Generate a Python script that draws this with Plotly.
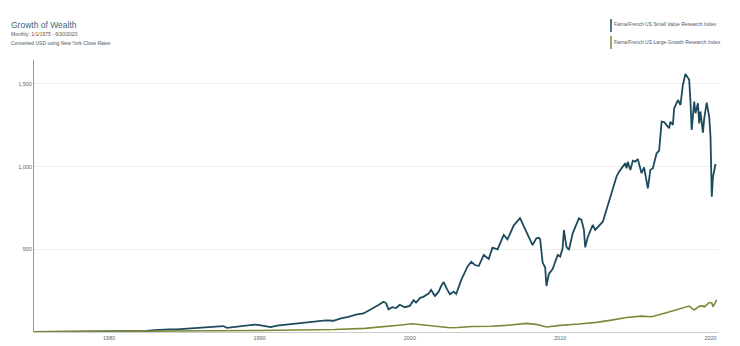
import plotly.graph_objects as go

# Fama/French US Small Value Research Index (growth of $1)
sv_dates = [
    "1975-01-01", "1976-01-01", "1977-01-01", "1978-01-01", "1979-01-01", "1980-01-01",
    "1981-01-01", "1982-01-01", "1982-07-01", "1983-01-01", "1983-07-01", "1984-01-01",
    "1984-07-01", "1985-01-01", "1986-01-01", "1986-07-01", "1987-01-01", "1987-08-01",
    "1987-11-01", "1988-06-01", "1989-01-01", "1989-09-01", "1990-01-01", "1990-10-01",
    "1991-03-01", "1991-12-01", "1992-06-01", "1993-01-01", "1993-10-01", "1994-06-01",
    "1994-12-01", "1995-06-01", "1995-12-01", "1996-06-01", "1996-12-01", "1997-06-01",
    "1997-12-01", "1998-04-01", "1998-06-01", "1998-08-01", "1998-11-01", "1999-02-01",
    "1999-05-01", "1999-09-01", "2000-01-01", "2000-04-01", "2000-06-01", "2000-09-01",
    "2000-12-01", "2001-04-01", "2001-06-01", "2001-09-01", "2001-12-01", "2002-02-01",
    "2002-04-01", "2002-07-01", "2002-09-01", "2002-12-01", "2003-02-01", "2003-06-01",
    "2003-11-01", "2004-02-01", "2004-05-01", "2004-08-01", "2004-12-01", "2005-04-01",
    "2005-07-01", "2005-11-01", "2006-04-01", "2006-07-01", "2006-12-01", "2007-05-01",
    "2007-08-01", "2007-12-01", "2008-03-01", "2008-06-01", "2008-08-01", "2008-09-01",
    "2008-11-01", "2009-01-01", "2009-02-01", "2009-04-01", "2009-07-01", "2009-11-01",
    "2010-01-01", "2010-03-01", "2010-04-01", "2010-06-01", "2010-08-01", "2010-11-01",
    "2011-04-01", "2011-06-01", "2011-08-01", "2011-09-01", "2011-11-01", "2012-03-01",
    "2012-05-01", "2012-11-01", "2013-03-01", "2013-06-01", "2013-10-01", "2013-12-01",
    "2014-03-01", "2014-05-01", "2014-06-01", "2014-07-01", "2014-09-01", "2014-11-01",
    "2015-01-01", "2015-03-01", "2015-06-01", "2015-08-01", "2015-11-01", "2016-01-01",
    "2016-03-01", "2016-06-01", "2016-08-01", "2016-10-01", "2016-12-01", "2017-04-01",
    "2017-05-01", "2017-07-01", "2017-08-01", "2017-11-01", "2018-01-01", "2018-03-01",
    "2018-05-01", "2018-08-01", "2018-09-01", "2018-10-01", "2018-12-01", "2019-01-01",
    "2019-03-01", "2019-04-01", "2019-05-01", "2019-07-01", "2019-08-01", "2019-10-01",
    "2019-12-01", "2020-01-01", "2020-02-01", "2020-03-01", "2020-04-01", "2020-05-01",
    "2020-06-01",
]
sv_values = [
    1, 1.6, 2.3, 2.8, 3.5, 4.8,
    6.5, 7.5, 7.3, 11, 15, 16,
    16, 19, 25, 27, 30, 36,
    25, 31, 36, 45, 42, 30,
    38, 45, 50, 55, 66, 70,
    68, 83, 92, 105, 112, 135,
    163, 183, 175, 137, 150, 145,
    165, 150, 158, 192, 178, 205,
    214, 232, 254, 218, 244, 278,
    302, 255, 228, 244, 230, 314,
    395, 425, 405, 399, 466, 442,
    510, 500, 587, 560, 645, 688,
    637, 567, 526, 567, 570, 560,
    420, 390, 278, 351, 380, 466,
    456, 506, 617, 516, 496, 597,
    688, 678, 617, 512, 573, 647,
    617, 667, 758, 839, 940, 970,
    1000, 1020, 990, 1030, 980, 1036,
    1030, 1046, 960, 996, 869, 980,
    990, 1081, 1097, 1272, 1269, 1232,
    1272, 1252, 1353, 1403, 1373, 1494,
    1561, 1525, 1393, 1222, 1393, 1323,
    1383, 1262, 1333, 1206, 1292, 1387,
    1300, 1180, 818, 940, 975, 1016,
]

# Fama/French US Large Growth Research Index (growth of $1)
lg_dates = [
    "1975-01-01", "1977-01-01", "1980-01-01", "1983-01-01", "1985-01-01", "1987-08-01",
    "1987-11-01", "1990-01-01", "1992-06-01", "1995-01-01", "1997-01-01", "1998-06-01",
    "1999-06-01", "2000-03-01", "2000-09-01", "2001-06-01", "2002-09-01", "2003-03-01",
    "2004-03-01", "2005-06-01", "2006-06-01", "2007-10-01", "2008-06-01", "2009-02-01",
    "2010-01-01", "2011-04-01", "2012-06-01", "2013-06-01", "2014-06-01", "2015-06-01",
    "2016-02-01", "2017-01-01", "2017-12-01", "2018-08-01", "2018-12-01", "2019-04-01",
    "2019-07-01", "2019-08-01", "2019-12-01", "2020-02-01", "2020-03-01", "2020-06-01",
]
lg_values = [
    1, 1.5, 2.5, 4, 5, 8,
    6.5, 9, 12, 15, 22, 32,
    42, 50, 46, 38, 26, 27,
    33, 35, 40, 52, 46, 30,
    40, 48, 58, 72, 88, 96,
    92, 115, 139, 157, 133, 155,
    158, 152, 178, 175, 153, 194,
]

y_ticks = [500, 1000, 1500]
y_tick_text = ["500", "1,000", "1,500"]
x_ticks = ["1980-01-01", "1990-01-01", "2000-01-01", "2010-01-01", "2020-01-01"]
x_tick_text = ["1980", "1990", "2000", "2010", "2020"]

names = ["Fama/French US Small Value Research Index",
         "Fama/French US Large Growth Research Index"]
colors = ["#1c4b5e", "#7b8a3a"]

fig = go.Figure()
fig.add_trace(go.Scatter(x=sv_dates, y=sv_values, mode="lines", name=names[0],
                         line=dict(color=colors[0], width=1.8)))
fig.add_trace(go.Scatter(x=lg_dates, y=lg_values, mode="lines", name=names[1],
                         line=dict(color=colors[1], width=1.6)))

FONT = "Arial, Liberation Sans, sans-serif"
fig.update_layout(
    width=740, height=346,
    margin=dict(l=34, r=22, t=60, b=14, autoexpand=False),
    paper_bgcolor="white", plot_bgcolor="white",
    showlegend=False,
    font=dict(family=FONT, size=6, color="#666666"),
    xaxis=dict(range=["1975-01-01", "2020-07-01"], tickvals=x_ticks, ticktext=x_tick_text,
               showgrid=False, showline=True, linecolor="#cccccc", linewidth=1,
               ticks="", tickfont=dict(size=5.5, color="#666666"), zeroline=False,
               automargin=False),
    yaxis=dict(range=[0, 1645], tickvals=y_ticks, ticktext=y_tick_text,
               showgrid=True, gridcolor="#eeeeee", gridwidth=1,
               showline=True, linecolor="#999999", linewidth=1,
               ticks="", tickfont=dict(size=5.5, color="#666666"), zeroline=False,
               automargin=False),
)

anns = [
    dict(text="Growth of Wealth", x=-0.037, y=1.129, font=dict(size=8.5, color="#3b6877")),
    dict(text="Monthly: 1/1/1975 - 6/30/2020", x=-0.037, y=1.096, font=dict(size=5, color="#555555")),
    dict(text="Converted USD using New York Close Rates", x=-0.037, y=1.064, font=dict(size=5, color="#555555")),
    dict(text=names[0], x=0.845, y=1.131, font=dict(size=5, color="#555555")),
    dict(text=names[1], x=0.845, y=1.066, font=dict(size=5, color="#555555")),
]
for a in anns:
    fig.add_annotation(xref="paper", yref="paper", xanchor="left", yanchor="middle",
                       showarrow=False, **a)

fig.add_shape(type="line", xref="paper", yref="paper", x0=0.8436, x1=0.8436, y0=1.103, y1=1.151,
              line=dict(color=colors[0], width=1.5))
fig.add_shape(type="line", xref="paper", yref="paper", x0=0.8436, x1=0.8436, y0=1.040, y1=1.088,
              line=dict(color=colors[1], width=1.5))

fig.write_html("out.html")
